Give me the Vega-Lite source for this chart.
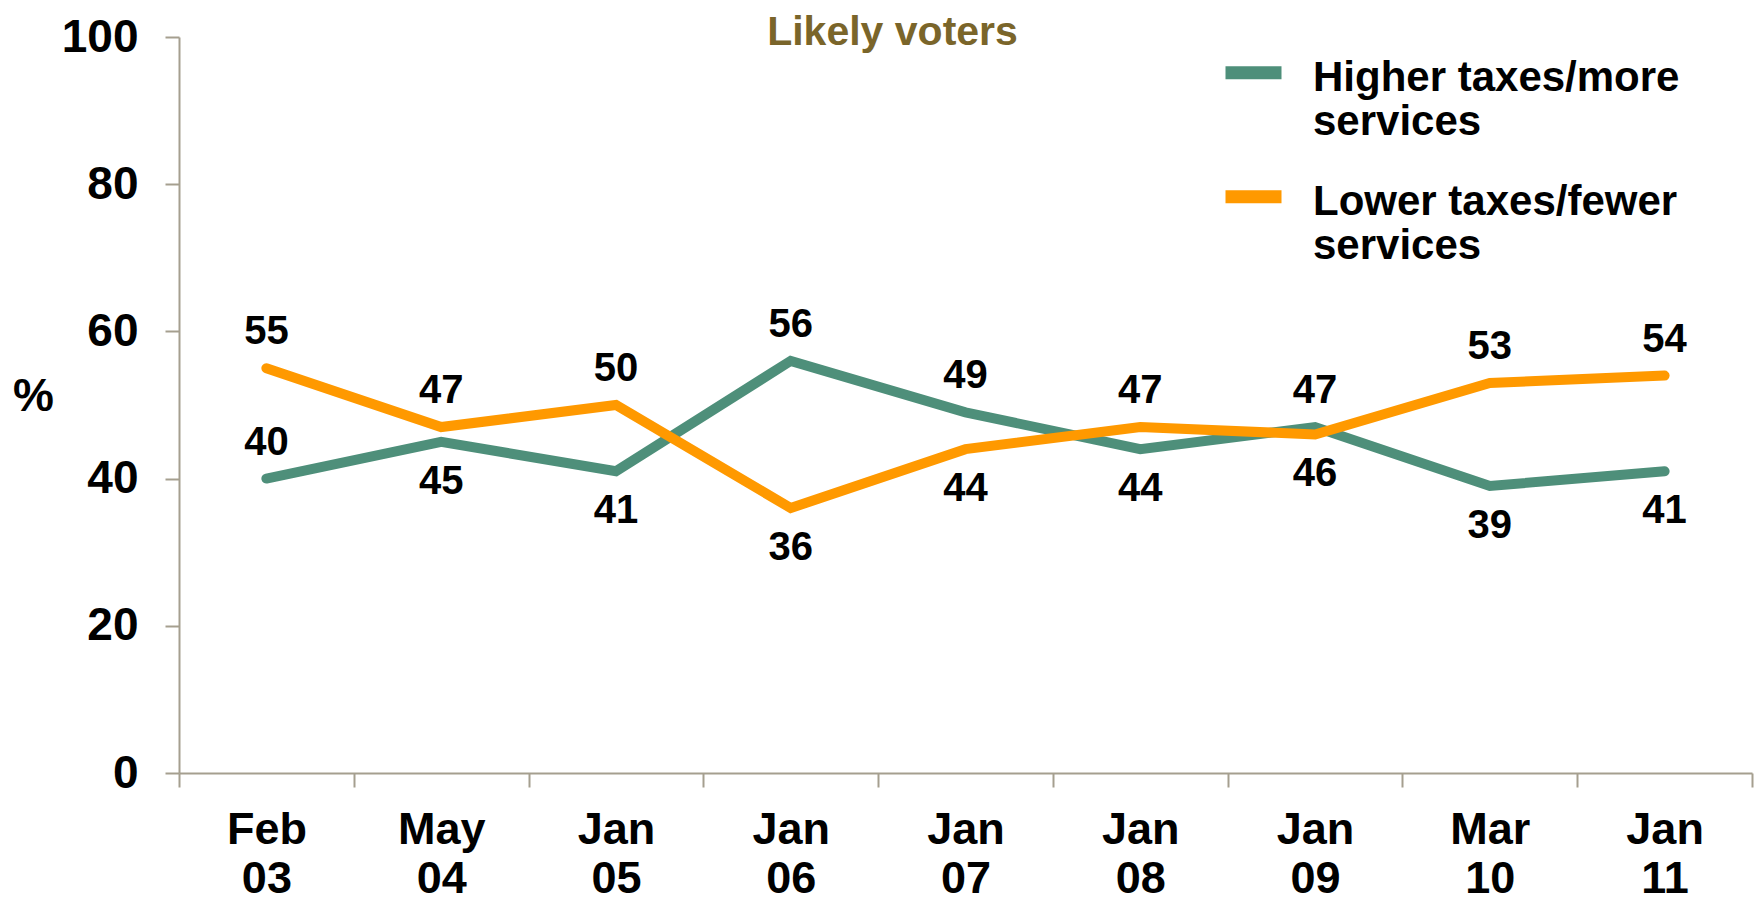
{
  "$schema": "https://vega.github.io/schema/vega-lite/v6.json",
  "width": 1573,
  "height": 736,
  "autosize": {"type": "none"},
  "padding": {"left": 179, "top": 37, "right": 4, "bottom": 129},
  "background": "white",
  "title": {
    "text": "Likely voters",
    "font": "Liberation Sans",
    "fontSize": 41,
    "fontWeight": "bold",
    "color": "#7A652A",
    "anchor": "middle",
    "frame": "group",
    "baseline": "alphabetic",
    "dx": -73,
    "offset": -72
  },
  "config": {
    "view": {"stroke": null},
    "font": "Liberation Sans",
    "axis": {
      "domainColor": "#A59F8F",
      "domainWidth": 2,
      "tickColor": "#A59F8F",
      "tickWidth": 2,
      "tickSize": 14,
      "labelFont": "Liberation Sans",
      "labelFontWeight": "bold",
      "labelColor": "#000000",
      "grid": false
    }
  },
  "data": {
    "values": [
      {"period": "Feb 03", "series": "Higher taxes/more services", "value": 40, "side": "above"},
      {"period": "May 04", "series": "Higher taxes/more services", "value": 45, "side": "below"},
      {"period": "Jan 05", "series": "Higher taxes/more services", "value": 41, "side": "below"},
      {"period": "Jan 06", "series": "Higher taxes/more services", "value": 56, "side": "above"},
      {"period": "Jan 07", "series": "Higher taxes/more services", "value": 49, "side": "above"},
      {"period": "Jan 08", "series": "Higher taxes/more services", "value": 44, "side": "below"},
      {"period": "Jan 09", "series": "Higher taxes/more services", "value": 47, "side": "above"},
      {"period": "Mar 10", "series": "Higher taxes/more services", "value": 39, "side": "below"},
      {"period": "Jan 11", "series": "Higher taxes/more services", "value": 41, "side": "below"},
      {"period": "Feb 03", "series": "Lower taxes/fewer services", "value": 55, "side": "above"},
      {"period": "May 04", "series": "Lower taxes/fewer services", "value": 47, "side": "above"},
      {"period": "Jan 05", "series": "Lower taxes/fewer services", "value": 50, "side": "above"},
      {"period": "Jan 06", "series": "Lower taxes/fewer services", "value": 36, "side": "below"},
      {"period": "Jan 07", "series": "Lower taxes/fewer services", "value": 44, "side": "below"},
      {"period": "Jan 08", "series": "Lower taxes/fewer services", "value": 47, "side": "above"},
      {"period": "Jan 09", "series": "Lower taxes/fewer services", "value": 46, "side": "below"},
      {"period": "Mar 10", "series": "Lower taxes/fewer services", "value": 53, "side": "above"},
      {"period": "Jan 11", "series": "Lower taxes/fewer services", "value": 54, "side": "above"}
    ]
  },
  "encoding": {
    "x": {
      "field": "period",
      "type": "ordinal",
      "sort": null,
      "scale": {"type": "band", "paddingInner": 0, "paddingOuter": 0},
      "axis": {
        "title": null,
        "labelAngle": 0,
        "tickBand": "extent",
        "labelExpr": "split(datum.label, ' ')",
        "labelFontSize": 45,
        "labelLineHeight": 49,
        "labelPadding": 20,
        "labelBaseline": "top"
      }
    },
    "y": {
      "field": "value",
      "type": "quantitative",
      "scale": {"domain": [0, 100], "nice": false},
      "axis": {
        "values": [0, 20, 40, 60, 80, 100],
        "labelFontSize": 46,
        "title": "%",
        "titleAngle": 0,
        "titleFont": "Liberation Sans",
        "titleFontWeight": "bold",
        "titleFontSize": 46,
        "titleColor": "#000000",
        "titleX": -146,
        "titleY": 359,
        "titleAlign": "center",
        "titleBaseline": "middle",
        "labelPadding": 27
      }
    }
  },
  "layer": [
    {
      "mark": {"type": "line", "strokeWidth": 10, "strokeCap": "round", "strokeJoin": "miter"},
      "encoding": {
        "color": {
          "field": "series",
          "type": "nominal",
          "scale": {
            "domain": ["Higher taxes/more services", "Lower taxes/fewer services"],
            "range": ["#4E8F7A", "#FF9900"]
          },
          "legend": {
            "title": null,
            "orient": "none",
            "legendX": 1040,
            "legendY": 6,
            "padding": 0,
            "symbolType": "M-1,-0.17L1,-0.17",
            "symbolSize": 3136,
            "symbolStrokeWidth": 13,
            "labelFont": "Liberation Sans",
            "labelFontWeight": "bold",
            "labelFontSize": 42,
            "labelColor": "#000000",
            "labelLimit": 600,
            "labelOffset": 25,
            "labelBaseline": "middle",
            "labelLineHeight": 51,
            "labelExpr": "[slice(datum.label, 0, lastindexof(datum.label, ' ')), slice(datum.label, lastindexof(datum.label, ' ') + 1)]",
            "rowPadding": 24
          }
        }
      }
    },
    {
      "transform": [{"filter": "datum.side == 'above'"}],
      "mark": {"type": "text", "font": "Liberation Sans", "fontWeight": "bold", "fontSize": 40, "color": "#000000", "baseline": "middle", "dy": -36},
      "encoding": {"text": {"field": "value", "type": "quantitative"}}
    },
    {
      "transform": [{"filter": "datum.side == 'below'"}],
      "mark": {"type": "text", "font": "Liberation Sans", "fontWeight": "bold", "fontSize": 40, "color": "#000000", "baseline": "middle", "dy": 40},
      "encoding": {"text": {"field": "value", "type": "quantitative"}}
    }
  ]
}
